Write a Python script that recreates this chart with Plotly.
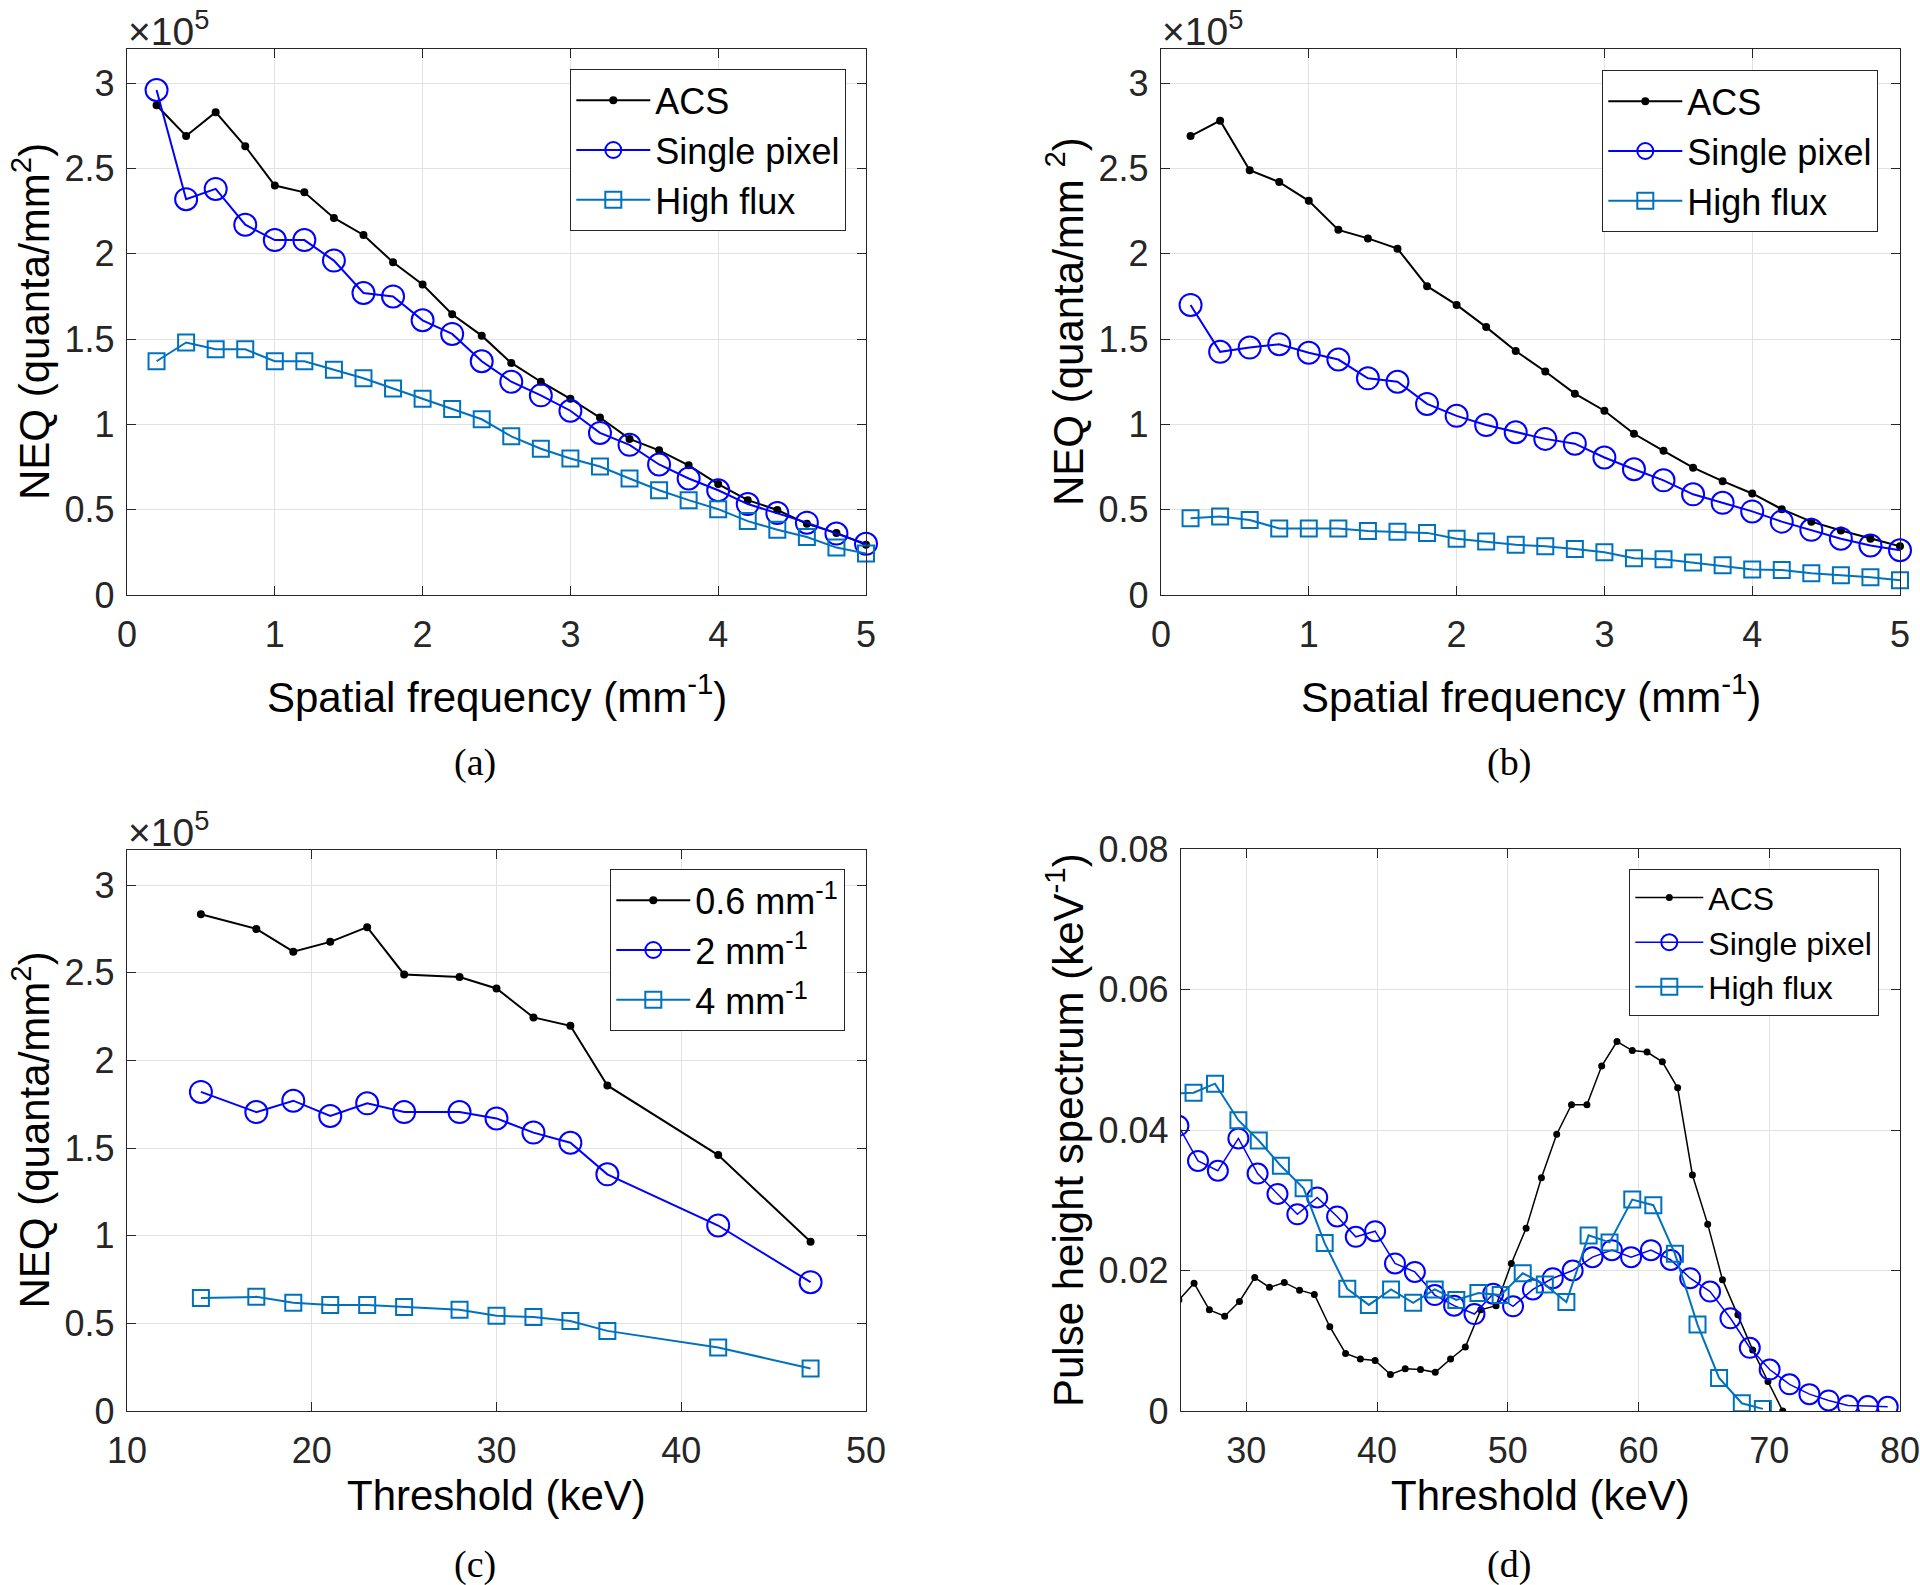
import plotly.graph_objects as go

# ---------------- data ----------------
# (a) and (b): NEQ vs spatial frequency (values in units of 1e5 quanta/mm^2)
freq = [0.2, 0.4, 0.6, 0.8, 1.0, 1.2, 1.4, 1.6, 1.8, 2.0, 2.2, 2.4, 2.6,
        2.8, 3.0, 3.2, 3.4, 3.6, 3.8, 4.0, 4.2, 4.4, 4.6, 4.8, 5.0]

a_acs = [2.87, 2.69, 2.83, 2.63, 2.40, 2.36, 2.21, 2.11, 1.95, 1.82, 1.645, 1.52, 1.36,
         1.25, 1.15, 1.04, 0.915, 0.848, 0.76, 0.65, 0.556, 0.498, 0.417, 0.364, 0.294]
a_single = [2.96, 2.32, 2.38, 2.17, 2.08, 2.08, 1.96, 1.77, 1.75, 1.61, 1.53, 1.37, 1.25,
            1.17, 1.08, 0.95, 0.88, 0.765, 0.683, 0.614, 0.533, 0.48, 0.424, 0.36, 0.30]
a_high = [1.37, 1.48, 1.44, 1.44, 1.37, 1.37, 1.32, 1.27, 1.21, 1.15, 1.09, 1.03, 0.93,
          0.857, 0.80, 0.753, 0.683, 0.614, 0.556, 0.503, 0.433, 0.382, 0.34, 0.278, 0.243]

b_acs = [2.69, 2.78, 2.49, 2.42, 2.31, 2.14, 2.09, 2.03, 1.81, 1.70, 1.57, 1.43, 1.31,
         1.18, 1.08, 0.945, 0.845, 0.746, 0.667, 0.595, 0.503, 0.43, 0.378, 0.33, 0.285]
b_single = [1.70, 1.425, 1.45, 1.47, 1.42, 1.38, 1.27, 1.25, 1.12, 1.05, 0.996, 0.954, 0.915,
            0.887, 0.806, 0.737, 0.672, 0.59, 0.54, 0.49, 0.43, 0.382, 0.33, 0.29, 0.262]
b_high = [0.45, 0.46, 0.44, 0.39, 0.39, 0.39, 0.375, 0.37, 0.364, 0.33, 0.313, 0.294, 0.285,
          0.27, 0.25, 0.215, 0.21, 0.19, 0.174, 0.15, 0.146, 0.127, 0.116, 0.104, 0.086]

# (c): NEQ vs threshold (units of 1e5)
thr = [14, 17, 19, 21, 23, 25, 28, 30, 32, 34, 36, 42, 47]
c_06 = [2.834, 2.75, 2.62, 2.676, 2.76, 2.49, 2.475, 2.41, 2.245, 2.197, 1.857, 1.46, 0.965]
c_2 = [1.82, 1.705, 1.77, 1.683, 1.755, 1.705, 1.705, 1.669, 1.588, 1.53, 1.35, 1.058, 0.735]
c_4 = [0.645, 0.651, 0.617, 0.604, 0.604, 0.593, 0.577, 0.543, 0.536, 0.513, 0.457, 0.362, 0.243]

# (d): pulse height spectra
d_acs_x = [24.84, 26.0, 27.17, 28.34, 29.47, 30.64, 31.77, 32.9, 34.07, 35.2,
           36.38, 37.59, 38.72, 39.85, 41.02, 42.15, 43.32, 44.45, 45.62, 46.75,
           47.93, 49.1, 50.27, 51.4, 52.57, 53.74, 54.87, 56.05, 57.18, 58.35,
           59.52, 60.65, 61.82, 62.99, 64.12, 65.29, 66.42, 67.6, 68.73, 69.9, 71.03]
d_acs_y = [0.0158, 0.0182, 0.0144, 0.0135, 0.0156, 0.0190, 0.0176, 0.0183, 0.0172, 0.0166,
           0.0120, 0.0082, 0.0074, 0.0072, 0.0052, 0.0060, 0.0059, 0.0055, 0.0074, 0.0091,
           0.0144, 0.0150, 0.0210, 0.0260, 0.0332, 0.0394, 0.0436, 0.0436, 0.0491, 0.0526,
           0.0513, 0.0511, 0.0497, 0.0460, 0.0336, 0.0266, 0.0187, 0.0137, 0.0087, 0.0042, 0.0]
d_single_x = [24.8, 26.3, 27.82, 29.39, 30.86, 32.38, 33.9, 35.42, 36.94, 38.37,
              39.85, 41.37, 42.89, 44.41, 45.89, 47.45, 48.88, 50.4, 51.92, 53.44,
              54.96, 56.48, 57.96, 59.43, 60.95, 62.47, 63.95, 65.47, 67.03, 68.51,
              70.03, 71.55, 73.07, 74.54, 76.02, 77.54, 79.06]
d_single_y = [0.0406, 0.0356, 0.0342, 0.0388, 0.0338, 0.0309, 0.0280, 0.0304, 0.0277, 0.0248,
              0.0256, 0.0210, 0.0198, 0.0165, 0.0150, 0.0138, 0.0167, 0.0149, 0.0173, 0.0189,
              0.0200, 0.0219, 0.0229, 0.0219, 0.0229, 0.0215, 0.0189, 0.0170, 0.0132, 0.0090,
              0.0059, 0.0038, 0.0024, 0.0015, 0.0008, 0.0007, 0.0006]
d_high_x = [24.28, 25.96, 27.6, 29.39, 30.95, 32.64, 34.38, 35.99, 37.72, 39.37,
            41.07, 42.76, 44.41, 46.06, 47.75, 49.45, 51.14, 52.83, 54.48, 56.18,
            57.78, 59.52, 61.13, 62.78, 64.51, 66.16, 67.9, 69.51]
d_high_y = [0.0452, 0.0453, 0.0466, 0.0414, 0.0385, 0.0349, 0.0317, 0.0239, 0.0174, 0.0151,
            0.0173, 0.0154, 0.0173, 0.0158, 0.0168, 0.0165, 0.0196, 0.0180, 0.0155, 0.0250,
            0.0240, 0.0301, 0.0293, 0.0224, 0.0123, 0.0047, 0.0011, 0.0003]

# ---------------- styling ----------------
W, H = 1920, 1585
SANS = "Liberation Sans, Arial, sans-serif"
SERIF = "Liberation Serif, Times New Roman, serif"
BLACK = "#000000"
BLUE = "#0000FF"
MBLUE = "#0072BD"
AXC = "#262626"
GRID = "#e2e2e2"


def px_x(v):
    return v / W


def px_y(v):
    return 1 - v / H


# plot areas in pixels (left, right, top, bottom)
boxes = {
    "a": (127, 866, 49, 595),
    "b": (1161, 1900, 49, 595),
    "c": (127, 866, 850, 1411),
    "d": (1181, 1900, 849, 1411),
}


def axis(box, rng, dtick, anchor, horizontal):
    l, r, t, b = box
    dom = [px_x(l), px_x(r)] if horizontal else [px_y(b), px_y(t)]
    return dict(
        domain=dom, range=rng, dtick=dtick, tick0=0, anchor=anchor,
        showgrid=True, gridcolor=GRID, gridwidth=1, zeroline=False,
        showline=True, linecolor=AXC, linewidth=1.3, mirror="ticks",
        ticks="inside", ticklen=9, tickwidth=1.3, tickcolor=AXC,
        tickfont=dict(family=SANS, size=36, color=AXC),
        ticklabelstandoff=8 if horizontal else 4,
        ticklabeloverflow="allow",
        automargin=False, fixedrange=True,
    )


fig = go.Figure()


def add(x, y, name, color, symbol, size, xa, ya, leg, lw=2.0, clip=False):
    fig.add_trace(go.Scatter(
        x=x, y=y, name=name, mode="lines+markers",
        line=dict(color=color, width=lw),
        marker=dict(symbol=symbol, size=size, color=color,
                    line=dict(color=color, width=2)),
        xaxis=xa, yaxis=ya, legend=leg, cliponaxis=clip,
    ))


# (a)
add(freq, a_acs, "ACS", BLACK, "circle", 6, "x", "y", "legend")
add(freq, a_single, "Single pixel", BLUE, "circle-open", 22, "x", "y", "legend")
add(freq, a_high, "High flux", MBLUE, "square-open", 16, "x", "y", "legend")
# (b)
add(freq, b_acs, "ACS", BLACK, "circle", 6, "x2", "y2", "legend2")
add(freq, b_single, "Single pixel", BLUE, "circle-open", 22, "x2", "y2", "legend2")
add(freq, b_high, "High flux", MBLUE, "square-open", 16, "x2", "y2", "legend2")
# (c)
add(thr, c_06, "0.6 mm<sup>-1</sup>", BLACK, "circle", 6, "x3", "y3", "legend3")
add(thr, c_2, "2 mm<sup>-1</sup>", BLUE, "circle-open", 22, "x3", "y3", "legend3")
add(thr, c_4, "4 mm<sup>-1</sup>", MBLUE, "square-open", 16, "x3", "y3", "legend3")
# (d)
add(d_acs_x, d_acs_y, "ACS", BLACK, "circle", 5, "x4", "y4", "legend4", lw=1.5, clip=True)
add(d_single_x, d_single_y, "Single pixel", BLUE, "circle-open", 20, "x4", "y4", "legend4", lw=1.5, clip=True)
add(d_high_x, d_high_y, "High flux", MBLUE, "square-open", 16, "x4", "y4", "legend4", lw=2.0, clip=True)


def legend(right, top, size, iw):
    return dict(
        x=px_x(right), y=px_y(top), xanchor="right", yanchor="top",
        bgcolor="white", bordercolor=AXC, borderwidth=1.3,
        font=dict(family=SANS, size=size, color=BLACK),
        itemwidth=iw, tracegroupgap=0,
    )


layout = dict(
    width=W, height=H,
    margin=dict(l=0, r=0, t=0, b=0, pad=0, autoexpand=False),
    paper_bgcolor="white", plot_bgcolor="white",
    showlegend=True,
    xaxis=axis(boxes["a"], [0, 5], 1, "y", True),
    yaxis=axis(boxes["a"], [0, 3.2], 0.5, "x", False),
    xaxis2=axis(boxes["b"], [0, 5], 1, "y2", True),
    yaxis2=axis(boxes["b"], [0, 3.2], 0.5, "x2", False),
    xaxis3=axis(boxes["c"], [10, 50], 10, "y3", True),
    yaxis3=axis(boxes["c"], [0, 3.2], 0.5, "x3", False),
    xaxis4=axis(boxes["d"], [25, 80], 10, "y4", True),
    yaxis4=axis(boxes["d"], [0, 0.08], 0.02, "x4", False),
    legend=legend(846, 69, 36, 74),
    legend2=legend(1878, 70, 36, 74),
    legend3=legend(845, 869, 36, 74),
    legend4=legend(1879, 869, 32, 68),
)
fig.update_layout(**layout)

ann = []


def text(x, y, s, size, family=SANS, angle=0, xanchor="center", yanchor="middle", color=BLACK):
    ann.append(dict(
        x=px_x(x), y=px_y(y), xref="paper", yref="paper", text=s,
        showarrow=False, textangle=angle, xanchor=xanchor, yanchor=yanchor,
        font=dict(family=family, size=size, color=color),
    ))


# multiplier labels
for (l, r, t, b) in (boxes["a"], boxes["b"], boxes["c"]):
    text(l - 1, t + 6, "×10<sup>5</sup>", 39, xanchor="left", yanchor="bottom", color=AXC)

# axis titles
text((127 + 866) / 2, 694, "Spatial frequency (mm<sup>-1</sup>)", 42)
text((1161 + 1900) / 2, 694, "Spatial frequency (mm<sup>-1</sup>)", 42)
text((127 + 866) / 2, 1495, "Threshold (keV)", 42)
text((1181 + 1900) / 2, 1495, "Threshold (keV)", 42)
text(31, (49 + 595) / 2, "NEQ (quanta/mm<sup>2</sup>)", 42, angle=-90)
text(1065, (49 + 595) / 2, "NEQ (quanta/mm <sup>2</sup>)", 42, angle=-90)
text(31, (850 + 1411) / 2, "NEQ (quanta/mm<sup>2</sup>)", 42, angle=-90)
text(1065, (849 + 1411) / 2, "Pulse height spectrum (keV<sup>-1</sup>)", 42, angle=-90)

# captions
text(475, 762, "(a)", 38, family=SERIF)
text(1509, 762, "(b)", 38, family=SERIF)
text(475, 1564, "(c)", 38, family=SERIF)
text(1509, 1564, "(d)", 38, family=SERIF)

fig.update_layout(annotations=ann)

fig.write_html(
    "out.html",
    config={"displayModeBar": False},
    post_script="document.body.style.margin='0';document.body.style.overflow='hidden';",
)
